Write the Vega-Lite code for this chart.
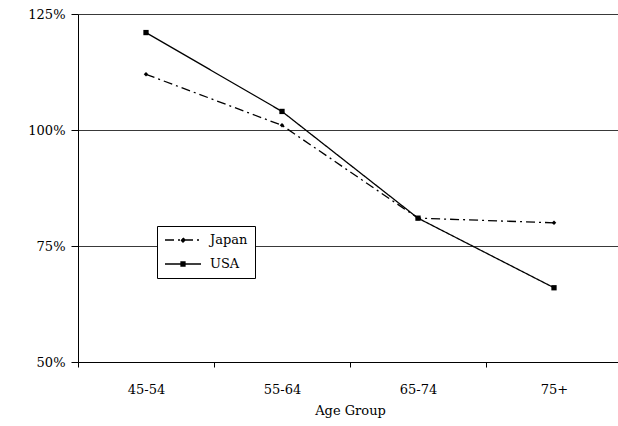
{
  "$schema": "https://vega.github.io/schema/vega-lite/v6.json",
  "width": 544,
  "height": 348,
  "autosize": {"type": "none"},
  "padding": {"left": 78, "top": 14, "right": 0, "bottom": 64},
  "background": "white",
  "config": {"view": {"stroke": null}, "font": "DejaVu Serif"},
  "data": {"values": [
    {"age": "45-54", "country": "Japan", "value": 1.12},
    {"age": "55-64", "country": "Japan", "value": 1.01},
    {"age": "65-74", "country": "Japan", "value": 0.81},
    {"age": "75+", "country": "Japan", "value": 0.80},
    {"age": "45-54", "country": "USA", "value": 1.21},
    {"age": "55-64", "country": "USA", "value": 1.04},
    {"age": "65-74", "country": "USA", "value": 0.81},
    {"age": "75+", "country": "USA", "value": 0.66}
  ]},
  "encoding": {
    "x": {"field": "age", "type": "ordinal", "title": "Age Group",
      "scale": {"paddingInner": 0, "paddingOuter": 0},
      "axis": {"labelAngle": 0, "domainColor": "black", "tickColor": "black", "tickBand": "extent", "tickSize": 5, "labelPadding": 16, "labelFontSize": 13, "labelColor": "black", "titleFontSize": 13, "titleFontWeight": "normal", "titleColor": "black", "titlePadding": 8, "grid": false}},
    "y": {"field": "value", "type": "quantitative", "title": null,
      "scale": {"domain": [0.5, 1.25], "nice": false, "zero": false},
      "axis": {"values": [0.5, 0.75, 1.0, 1.25], "format": ".0%", "domainColor": "black", "tickColor": "black", "tickSize": 7, "gridColor": "#222", "gridWidth": 0.9, "labelFontSize": 13, "labelColor": "black", "labelPadding": 6}}
  },
  "layer": [
    {
      "mark": {"type": "line", "color": "black", "strokeWidth": 1.3},
      "encoding": {
        "strokeDash": {"field": "country", "type": "nominal",
          "scale": {"domain": ["Japan", "USA"], "range": [[9, 4, 2, 4], [1, 0]]},
          "legend": {"title": null, "orient": "none", "legendX": 79, "legendY": 212, "fillColor": "white", "strokeColor": "black", "padding": 7, "labelFontSize": 13, "labelColor": "black", "symbolStrokeColor": "black", "symbolFillColor": "black", "symbolStrokeWidth": 1.3, "symbolSize": 1296, "rowPadding": 10, "clipHeight": 14, "labelOffset": 8,
            "symbolType": "M-1,0H1",
            "encode": {"symbols": {"update": {"shape": {"signal": "datum.value === 'Japan' ? 'M-1,0H1M0,-0.12L0.12,0L0,0.12L-0.12,0Z' : 'M-1,0H1M-0.11,-0.11H0.11V0.11H-0.11Z'"}}}}}}
      }
    },
    {
      "transform": [{"filter": "datum.country === 'Japan'"}],
      "mark": {"type": "point", "shape": "diamond", "filled": true, "color": "black", "size": 20, "opacity": 1}
    },
    {
      "transform": [{"filter": "datum.country === 'USA'"}],
      "mark": {"type": "point", "shape": "square", "filled": true, "color": "black", "size": 28, "opacity": 1}
    }
  ]
}
